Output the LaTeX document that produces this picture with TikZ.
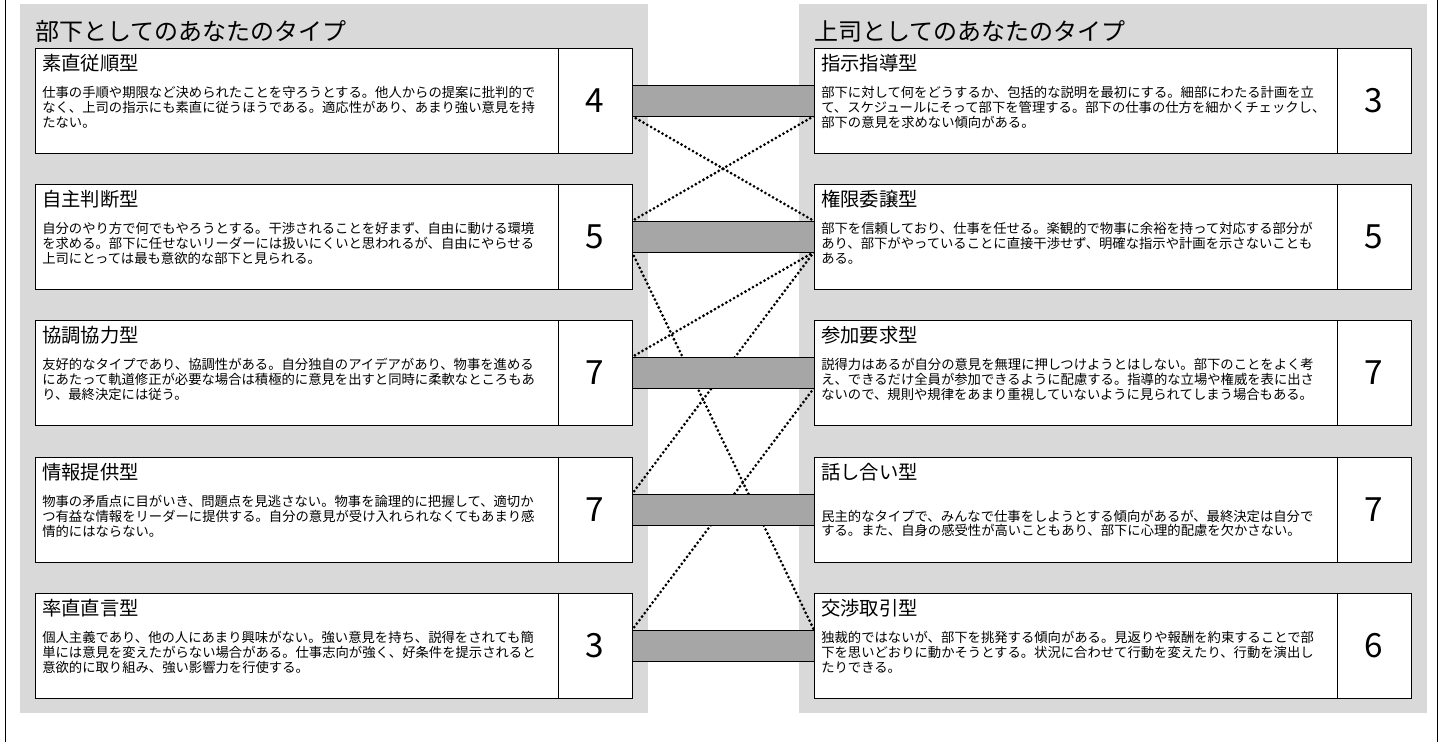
\documentclass[tikz,border=0pt]{standalone}
\usepackage{fontspec}
\setmainfont{Noto Sans CJK JP}
\usetikzlibrary{positioning}
\pgfdeclarelayer{panels}
\pgfdeclarelayer{links}
\pgfsetlayers{panels,links,main}
\definecolor{panelgray}{HTML}{D9D9D9}
\definecolor{bargray}{HTML}{A6A6A6}

\begin{document}
\begin{tikzpicture}[%
        x = 0.75pt,
        y = -0.75pt,
        line width = 0.8pt,
        typebox/.style = {
            draw, fill = white, anchor = north west,
            inner sep = 0pt, outer sep = 0pt,
            minimum width = 392.25pt, minimum height = 78.75pt
        },
        scorebox/.style = {
            draw, fill = white, inner sep = 0pt, outer sep = 0pt,
            minimum width = 55.5pt, minimum height = 78.75pt,
            font = \fontsize{25pt}{30pt}\selectfont
        },
        scorebar/.style = {
            draw, fill = bargray, inner sep = 0pt, outer sep = 0pt,
            minimum width = 136.5pt, minimum height = 23.25pt
        },
        paneltitle/.style = {anchor = west, inner sep = 0pt, font = \fontsize{18pt}{21pt}\selectfont},
        typename/.style = {anchor = west, inner sep = 0pt, font = \fontsize{14.5pt}{17pt}\selectfont},
        typetext/.style = {anchor = north west, inner sep = 0pt, align = left, font = \fontsize{10pt}{11.1pt}\selectfont},
        linkline/.style = {line width = 2.3pt, line cap = round, dash pattern = on 0pt off 3.3pt}
    ]

        \useasboundingbox (0, 0) rectangle (1442, 742);

        % Outer frame and the two grey panels.
        \begin{pgfonlayer}{panels}
            \draw (5, 0) -- (5, 742);
            \draw (1437, 0) -- (1437, 742);
            \fill[panelgray] (20, 4) rectangle (648, 713);
            \fill[panelgray] (799, 4) rectangle (1427, 713);
        \end{pgfonlayer}

        % Panel titles.
        \node[paneltitle] (subtitle) at (35, 31) {部下としてのあなたのタイプ};
        \node[paneltitle] (bosstitle) at (814, 31) {上司としてのあなたのタイプ};

        % Row 1.
        \node[typebox] (sub1) at (35, 48) {};
        \node[scorebox, right = 0pt of sub1] (sub1s) {4};
        \node[scorebar, right = 0pt of sub1s] (bar1) {};
        \node[typebox, right = 0pt of bar1] (boss1) {};
        \node[scorebox, right = 0pt of boss1] (boss1s) {3};
        \node[typename] at ([shift = {(7, 15)}]sub1.north west) {素直従順型};
        \node[typetext] at ([shift = {(7, 38)}]sub1.north west)
            {仕事の手順や期限など決められたことを守ろうとする。他人からの提案に批判的で\\
             なく、上司の指示にも素直に従うほうである。適応性があり、あまり強い意見を持\\
             たない。};
        \node[typename] at ([shift = {(7, 15)}]boss1.north west) {指示指導型};
        \node[typetext] at ([shift = {(7, 38)}]boss1.north west)
            {部下に対して何をどうするか、包括的な説明を最初にする。細部にわたる計画を立\\
             て、スケジュールにそって部下を管理する。部下の仕事の仕方を細かくチェックし、\\
             部下の意見を求めない傾向がある。};

        % Row 2.
        \node[typebox] (sub2) at (35, 184) {};
        \node[scorebox, right = 0pt of sub2] (sub2s) {5};
        \node[scorebar, right = 0pt of sub2s] (bar2) {};
        \node[typebox, right = 0pt of bar2] (boss2) {};
        \node[scorebox, right = 0pt of boss2] (boss2s) {5};
        \node[typename] at ([shift = {(7, 15)}]sub2.north west) {自主判断型};
        \node[typetext] at ([shift = {(7, 38)}]sub2.north west)
            {自分のやり方で何でもやろうとする。干渉されることを好まず、自由に動ける環境\\
             を求める。部下に任せないリーダーには扱いにくいと思われるが、自由にやらせる\\
             上司にとっては最も意欲的な部下と見られる。};
        \node[typename] at ([shift = {(7, 15)}]boss2.north west) {権限委譲型};
        \node[typetext] at ([shift = {(7, 38)}]boss2.north west)
            {部下を信頼しており、仕事を任せる。楽観的で物事に余裕を持って対応する部分が\\
             あり、部下がやっていることに直接干渉せず、明確な指示や計画を示さないことも\\
             ある。};

        % Row 3.
        \node[typebox] (sub3) at (35, 320) {};
        \node[scorebox, right = 0pt of sub3] (sub3s) {7};
        \node[scorebar, right = 0pt of sub3s] (bar3) {};
        \node[typebox, right = 0pt of bar3] (boss3) {};
        \node[scorebox, right = 0pt of boss3] (boss3s) {7};
        \node[typename] at ([shift = {(7, 15)}]sub3.north west) {協調協力型};
        \node[typetext] at ([shift = {(7, 38)}]sub3.north west)
            {友好的なタイプであり、協調性がある。自分独自のアイデアがあり、物事を進める\\
             にあたって軌道修正が必要な場合は積極的に意見を出すと同時に柔軟なところもあ\\
             り、最終決定には従う。};
        \node[typename] at ([shift = {(7, 15)}]boss3.north west) {参加要求型};
        \node[typetext] at ([shift = {(7, 38)}]boss3.north west)
            {説得力はあるが自分の意見を無理に押しつけようとはしない。部下のことをよく考\\
             え、できるだけ全員が参加できるように配慮する。指導的な立場や権威を表に出さ\\
             ないので、規則や規律をあまり重視していないように見られてしまう場合もある。};

        % Row 4.
        \node[typebox] (sub4) at (35, 457) {};
        \node[scorebox, right = 0pt of sub4] (sub4s) {7};
        \node[scorebar, right = 0pt of sub4s] (bar4) {};
        \node[typebox, right = 0pt of bar4] (boss4) {};
        \node[scorebox, right = 0pt of boss4] (boss4s) {7};
        \node[typename] at ([shift = {(7, 15)}]sub4.north west) {情報提供型};
        \node[typetext] at ([shift = {(7, 38)}]sub4.north west)
            {物事の矛盾点に目がいき、問題点を見逃さない。物事を論理的に把握して、適切か\\
             つ有益な情報をリーダーに提供する。自分の意見が受け入れられなくてもあまり感\\
             情的にはならない。};
        \node[typename] at ([shift = {(7, 15)}]boss4.north west) {話し合い型};
        \node[typetext] at ([shift = {(7, 52.5)}]boss4.north west)
            {民主的なタイプで、みんなで仕事をしようとする傾向があるが、最終決定は自分で\\
             する。また、自身の感受性が高いこともあり、部下に心理的配慮を欠かさない。};

        % Row 5.
        \node[typebox] (sub5) at (35, 593) {};
        \node[scorebox, right = 0pt of sub5] (sub5s) {3};
        \node[scorebar, right = 0pt of sub5s] (bar5) {};
        \node[typebox, right = 0pt of bar5] (boss5) {};
        \node[scorebox, right = 0pt of boss5] (boss5s) {6};
        \node[typename] at ([shift = {(7, 15)}]sub5.north west) {率直直言型};
        \node[typetext] at ([shift = {(7, 38)}]sub5.north west)
            {個人主義であり、他の人にあまり興味がない。強い意見を持ち、説得をされても簡\\
             単には意見を変えたがらない場合がある。仕事志向が強く、好条件を提示されると\\
             意欲的に取り組み、強い影響力を行使する。};
        \node[typename] at ([shift = {(7, 15)}]boss5.north west) {交渉取引型};
        \node[typetext] at ([shift = {(7, 38)}]boss5.north west)
            {独裁的ではないが、部下を挑発する傾向がある。見返りや報酬を約束することで部\\
             下を思いどおりに動かそうとする。状況に合わせて行動を変えたり、行動を演出し\\
             たりできる。};

        % Dotted links between the score bars, kept under the bars.
        \begin{pgfonlayer}{links}
            \draw[linkline] (bar1.south west) -- (bar2.north east);
            \draw[linkline] (bar1.south east) -- (bar2.north west);
            \draw[linkline] (bar2.south west) -- (bar5.north east);
            \draw[linkline] (bar2.south east) -- (bar3.north west);
            \draw[linkline] (bar2.south east) -- (bar4.north west);
            \draw[linkline] (bar3.south east) -- (bar5.north west);
        \end{pgfonlayer}
    \end{tikzpicture}
\end{document}
